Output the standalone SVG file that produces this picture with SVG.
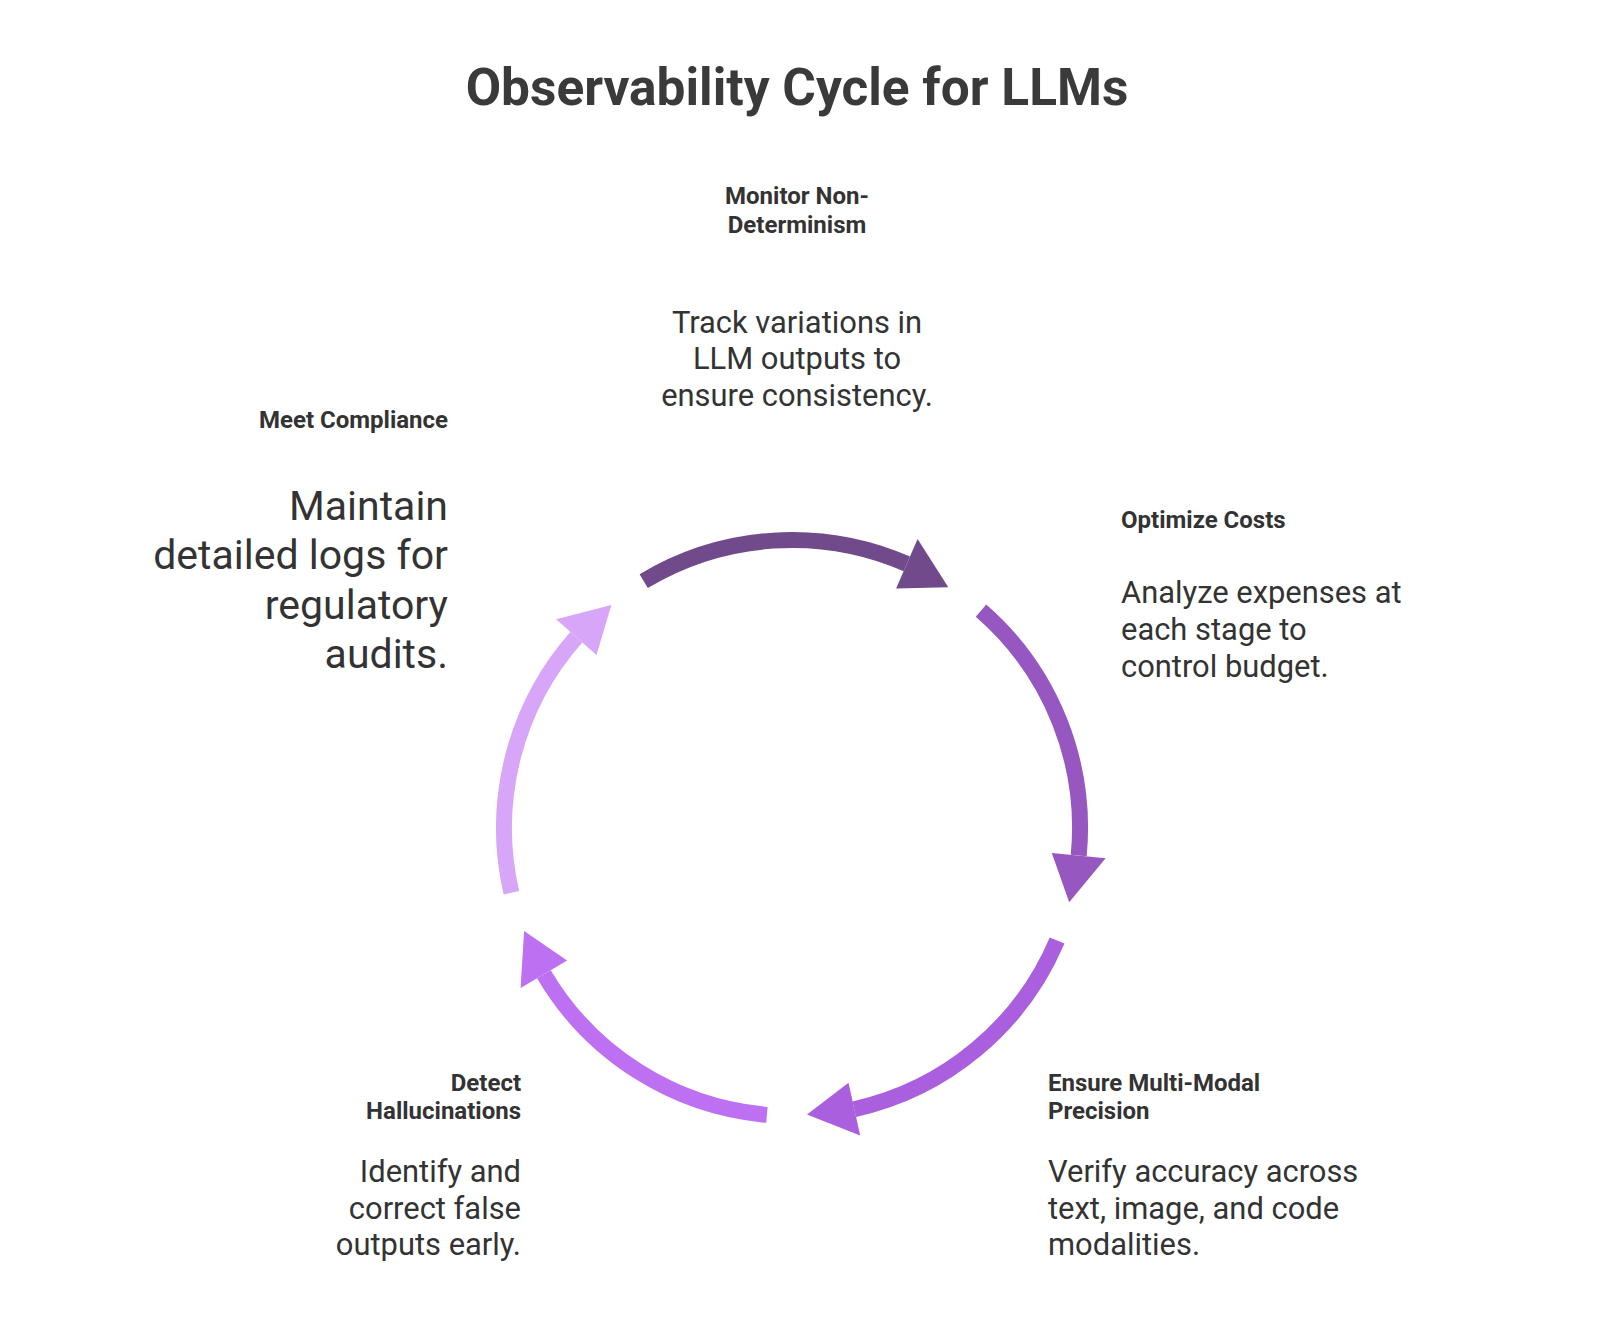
<svg xmlns="http://www.w3.org/2000/svg" width="1600" height="1333" viewBox="0 0 1600 1333">
<style>
.title{font-family:Roboto,"Liberation Sans",sans-serif;font-weight:700;font-size:51.4px;fill:#3a3a3a}
.lbl{font-family:Roboto,"Liberation Sans",sans-serif;font-weight:700;font-size:24px;fill:#333333}
.desc{font-family:Roboto,"Liberation Sans",sans-serif;font-weight:400;font-size:30.9px;fill:#333333}
.big{font-family:Roboto,"Liberation Sans",sans-serif;font-weight:400;font-size:41px;fill:#333333}
.arc{fill:none;stroke-width:16;stroke-linecap:butt}
</style>
<rect width="1600" height="1333" fill="#ffffff"/>
<text class="title" x="797" y="105" text-anchor="middle">Observability Cycle for LLMs</text>
<g id="connectors">
<g id="arrow1">
<path class="arc" stroke="#704a8b" d="M643.7,581.1 A288,288 0 0 1 906.8,563.9"/>
<polygon fill="#704a8b" points="917.6,539.1 948.3,587.3 896.1,588.6"/>
</g>
<g id="arrow2">
<path class="arc" stroke="#9657c1" d="M981.0,610.6 A288,288 0 0 1 1078.7,855.6"/>
<polygon fill="#9657c1" points="1105.6,858.2 1069.2,902.3 1051.8,853.0"/>
</g>
<g id="arrow3">
<path class="arc" stroke="#aa5fdf" d="M1057.1,940.5 A288,288 0 0 1 854.3,1109.2"/>
<polygon fill="#aa5fdf" points="860.2,1135.5 807.0,1114.6 848.5,1082.8"/>
</g>
<g id="arrow4">
<path class="arc" stroke="#bd70f2" d="M766.9,1114.9 A288,288 0 0 1 543.9,974.2"/>
<polygon fill="#bd70f2" points="520.6,987.9 524.1,930.9 567.1,960.5"/>
</g>
<g id="arrow5">
<path class="arc" stroke="#d8a6f8" d="M511.4,892.8 A288,288 0 0 1 576.3,637.2"/>
<polygon fill="#d8a6f8" points="556.1,619.3 611.4,605.0 596.5,655.1"/>
</g>
</g>
<g id="node-monitor">
<text class="lbl" x="797" y="204" text-anchor="middle">Monitor Non-</text>
<text class="lbl" x="797" y="233" text-anchor="middle">Determinism</text>
<text class="desc" x="797" y="333" text-anchor="middle">Track variations in</text>
<text class="desc" x="797" y="369" text-anchor="middle">LLM outputs to</text>
<text class="desc" x="797" y="406" text-anchor="middle">ensure consistency.</text>
</g>
<g id="node-costs">
<text class="lbl" x="1121" y="528">Optimize Costs</text>
<text class="desc" x="1121" y="603">Analyze expenses at</text>
<text class="desc" x="1121" y="640">each stage to</text>
<text class="desc" x="1121" y="677">control budget.</text>
</g>
<g id="node-multimodal">
<text class="lbl" x="1048" y="1091">Ensure Multi-Modal</text>
<text class="lbl" x="1048" y="1119">Precision</text>
<text class="desc" x="1048" y="1182">Verify accuracy across</text>
<text class="desc" x="1048" y="1219">text, image, and code</text>
<text class="desc" x="1048" y="1255">modalities.</text>
</g>
<g id="node-hallucinations">
<text class="lbl" x="521" y="1091" text-anchor="end">Detect</text>
<text class="lbl" x="521" y="1119" text-anchor="end">Hallucinations</text>
<text class="desc" x="521" y="1182" text-anchor="end">Identify and</text>
<text class="desc" x="521" y="1219" text-anchor="end">correct false</text>
<text class="desc" x="521" y="1255" text-anchor="end">outputs early.</text>
</g>
<g id="node-compliance">
<text class="lbl" x="448" y="428" text-anchor="end">Meet Compliance</text>
<text class="big" x="448" y="520" text-anchor="end">Maintain</text>
<text class="big" x="448" y="569" text-anchor="end">detailed logs for</text>
<text class="big" x="448" y="619" text-anchor="end">regulatory</text>
<text class="big" x="448" y="668" text-anchor="end">audits.</text>
</g>
</svg>
